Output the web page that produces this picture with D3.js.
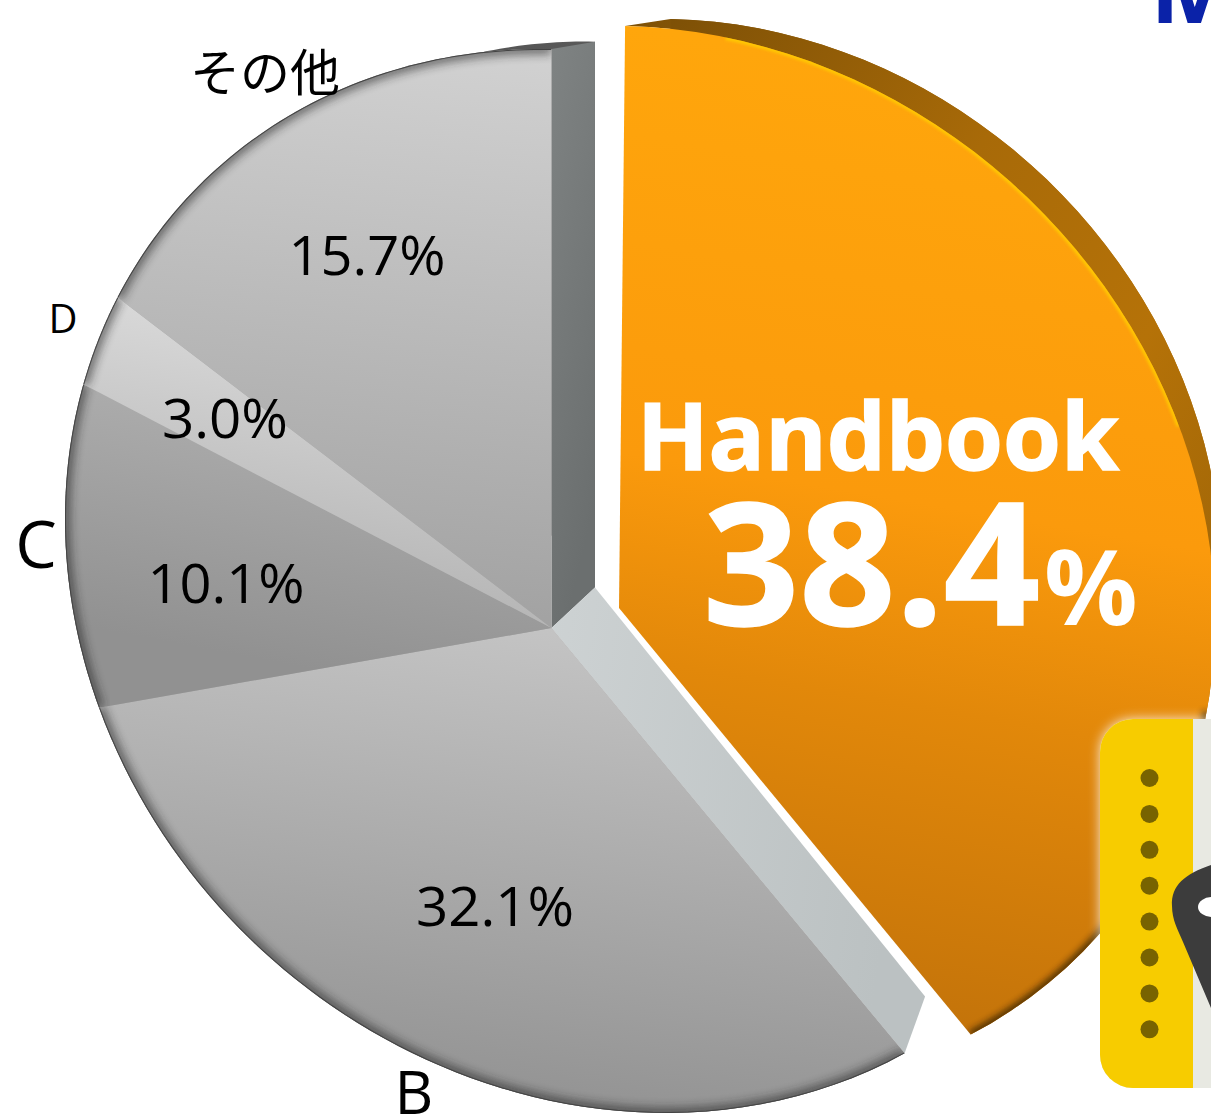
<!DOCTYPE html>
<html><head><meta charset="utf-8">
<script src="https://cdn.jsdelivr.net/npm/d3@7"></script>
<style>html,body{margin:0;padding:0;background:#fff;overflow:hidden}svg{display:block}text{font-family:"Open Sans","Noto Sans CJK JP",sans-serif}</style>
</head><body><svg id="c" width="1211" height="1115"></svg>
<script>
// ---- data ----
const categories = ["Handbook","B","C","D","その他"];
const shares = [38.4,32.1,10.1,3.0,15.7];
const shareLabels = ["38.4","32.1%","10.1%","3.0%","15.7%"];

// ---- layout / styling ----
const W=1211,H=1115;
const apex=[551.5,628], orangeApex=[619,608], orangeShift=[74,-23];
const vp=[1314,-82], depth=0.057, orangeDepth=0.066, farWallDepth=0.05, backRimFrom=320;
const ell={cx:603,cy:581,X:538,Y:532,d:83.3*Math.PI/180};
// projected angle (deg clockwise from top) of each slice boundary on the tilted disc
const projectedBoundaries=[0,140.3,260,297.5,307.3,360];
const faceGrad={B:["#c4c4c4","#929292"],C:["#b6b6b6","#919191"],D:["#e4e4e4","#b5b5b5"],"その他":["#d2d2d2","#a2a2a2"]};
const valuePos={B:[495,926],C:[226,603],D:[225,438],"その他":[367,275]};
const valueLen={B:158,C:157,D:126,"その他":157};
const namePos={B:[414,1114,60],C:[36,568,66],D:[63,333,40],"その他":[265,91,50]};

const svg=d3.select("#c"), defs=svg.append("defs");
const pie=d3.pie().sort(null).value(d=>d).startAngle(0).endAngle(360);
const arcs=pie(shares);
const warp=d3.scaleLinear().domain([0,...arcs.map(a=>a.endAngle)]).range(projectedBoundaries);

const sd=Math.sin(ell.d),cd=Math.cos(ell.d);
function toUnit(x,y){const dx=(x-ell.cx)/ell.X;const dy=(y-ell.cy-ell.Y*cd*dx)/(ell.Y*sd);return [dx,dy];}
function rim(a,psiDeg,sh=[0,0]){
  const p=psiDeg*Math.PI/180,d=[Math.sin(p),-Math.cos(p)];
  const o=toUnit(a[0]-sh[0],a[1]-sh[1]),e=toUnit(a[0]-sh[0]+d[0],a[1]-sh[1]+d[1]);
  const v=[e[0]-o[0],e[1]-o[1]];
  const A=v[0]*v[0]+v[1]*v[1],B=2*(o[0]*v[0]+o[1]*v[1]),C=o[0]*o[0]+o[1]*o[1]-1;
  const s=(-B+Math.sqrt(B*B-4*A*C))/(2*A);
  return [a[0]+d[0]*s,a[1]+d[1]*s];
}
const back=(p,k=depth)=>[p[0]+k*(vp[0]-p[0]),p[1]+k*(vp[1]-p[1])];
const line=d3.line();
const rimPts=(a,p0,p1,sh)=>d3.range(0,61).map(i=>rim(a,p0+(p1-p0)*i/60,sh));
const sector=(a,p0,p1,sh)=>line([a,...rimPts(a,p0,p1,sh)])+"Z";

function grad(id,stops,x1=0,y1=0,x2=0,y2=1){
  const g=defs.append("linearGradient").attr("id",id).attr("x1",x1).attr("y1",y1).attr("x2",x2).attr("y2",y2);
  stops.forEach(([o,c])=>g.append("stop").attr("offset",o).attr("stop-color",c));
}
[["soft",5],["mid",3],["fine",1.6],["glow",6]].forEach(([n,s])=>defs.append("filter").attr("id",n).attr("x","-30%").attr("y","-30%").attr("width","160%").attr("height","160%").append("feGaussianBlur").attr("stdDeviation",s));
grad("wallDark",[[0,"#7f8383"],[1,"#6b6f6f"]],0,0,.3,1);
grad("wallLight",[[0,"#cdd2d3"],[1,"#bbc1c2"]],0,0,1,.2);
grad("topRim",[[0,"#484848"],[1,"#5a5a5a"]],0,0,1,0);
grad("orange",[[0,"#ffa60c"],[.42,"#fb9a0c"],[.62,"#e2880a"],[1,"#bd6f0a"]],.02,0,-.08,1);
grad("orangeRim",[[0,"#7d5006"],[.35,"#a86a08"],[.6,"#b57208"],[1,"#8f5c06"]],0,0,1,1);

// ---- grey part: extruded back (top rim only), walls, faces ----
const gStart=warp(arcs[1].startAngle), gEnd=360;
const gRimBack=rimPts(apex,backRimFrom,gEnd).map(p=>back(p));
const gg=svg.append("g");
gg.append("path").attr("d",line([back(apex),...gRimBack])+"Z").attr("fill","url(#topRim)");
const topFront=rim(apex,gEnd), farFront=rim(apex,gStart);
gg.append("path").attr("d",line([apex,back(apex),back(topFront),topFront])+"Z").attr("fill","url(#wallDark)");
gg.append("path").attr("d",line([apex,back(apex),back(farFront,farWallDepth),farFront])+"Z").attr("fill","url(#wallLight)");
gg.append("path").attr("d",sector(apex,gStart,gEnd)).attr("fill","#aaaaaa");

arcs.slice(1).forEach((a,i)=>{
  const name=categories[i+1],p0=warp(a.startAngle),p1=warp(a.endAngle);
  const id="f"+i,d=sector(apex,p0,p1);
  const ys=[apex,...rimPts(apex,p0,p1)].map(p=>p[1]);
  const g=defs.append("linearGradient").attr("id",id).attr("gradientUnits","userSpaceOnUse")
    .attr("x1",apex[0]+30).attr("y1",d3.min(ys)).attr("x2",apex[0]-30).attr("y2",d3.max(ys));
  faceGrad[name].forEach((c,k)=>g.append("stop").attr("offset",k).attr("stop-color",c));
  defs.append("clipPath").attr("id","clip"+i).append("path").attr("d",d);
  gg.append("path").attr("d",d).attr("fill",`url(#${id})`);
  const b=gg.append("g").attr("clip-path",`url(#clip${i})`);
  b.append("path").attr("d",line(rimPts(apex,p0,p1))).attr("fill","none").attr("stroke","#222").attr("stroke-width",10).attr("filter","url(#soft)").attr("opacity",.6);
  b.append("path").attr("d",line(rimPts(apex,p0,p1))).attr("fill","none").attr("stroke","#444").attr("stroke-width",2);
});

// ---- orange part ----
const oArc=arcs[0],oP0=.6,oP1=warp(oArc.endAngle)+.2;
const oRim=rimPts(orangeApex,oP0,oP1,orangeShift);
const oBack=oRim.map(p=>back(p,orangeDepth));
const og=svg.append("g");
og.append("path").attr("d",line([...oRim,...oBack.slice().reverse()])+"Z").attr("fill","url(#orangeRim)");
og.append("path").attr("d",line([back(orangeApex,orangeDepth),...oBack])+"Z").attr("fill","url(#orangeRim)");
const oD=sector(orangeApex,oP0,oP1,orangeShift);
defs.append("clipPath").attr("id","clipO").append("path").attr("d",oD);
og.append("path").attr("d",oD).attr("fill","url(#orange)");
const ob=og.append("g").attr("clip-path","url(#clipO)");
ob.append("path").attr("d",line(rimPts(orangeApex,oP0+10,72,orangeShift))).attr("fill","none").attr("stroke","#ffd000").attr("stroke-width",5).attr("filter","url(#fine)").attr("opacity",.85);
ob.append("path").attr("d",line(rimPts(orangeApex,100,oP1,orangeShift))).attr("fill","none").attr("stroke","#2c1a00").attr("stroke-width",8).attr("filter","url(#mid)").attr("opacity",.75);

// ---- values and names ----
const tg=svg.append("g");
categories.slice(1).forEach((c,i)=>{
  tg.append("text").attr("x",valuePos[c][0]).attr("y",valuePos[c][1]).attr("text-anchor","middle").attr("font-size",55)
    .attr("textLength",valueLen[c]).attr("lengthAdjust","spacingAndGlyphs").attr("fill","#000").text(shareLabels[i+1]);
  const n=namePos[c];
  tg.append("text").attr("x",n[0]).attr("y",n[1]).attr("text-anchor","middle").attr("font-size",n[2]).attr("fill","#000").text(c);
});
tg.append("text").attr("x",878).attr("y",470).attr("text-anchor","middle").attr("font-size",93).attr("font-weight",700)
  .attr("textLength",482).attr("lengthAdjust","spacingAndGlyphs").attr("fill","#fff").attr("stroke","#fff").attr("stroke-width",1.5).text(categories[0]);
tg.append("text").attr("x",703).attr("y",625).attr("font-size",170).attr("font-weight",700).attr("fill","#fff").attr("stroke","#fff").attr("stroke-width",1.5)
  .attr("textLength",337).attr("lengthAdjust","spacingAndGlyphs").text(shareLabels[0]);
tg.append("text").attr("x",1044).attr("y",625).attr("font-size",104).attr("font-weight",700).attr("fill","#fff").text("%");

// ---- book icon and clipped title ----
const ic=svg.append("g");
const cardPath="M1211,719H1133a33,33 0 0 0 -33,33V1055a33,33 0 0 0 33,33H1211Z";
ic.append("path").attr("d",cardPath).attr("fill","#fff").attr("filter","url(#glow)").attr("opacity",.85);
defs.append("clipPath").attr("id","clipCard").append("path").attr("d",cardPath);
const cc=ic.append("g").attr("clip-path","url(#clipCard)");
cc.append("rect").attr("x",1100).attr("y",719).attr("width",111).attr("height",369).attr("fill","#e8e9e2");
cc.append("rect").attr("x",1100).attr("y",719).attr("width",93).attr("height",369).attr("fill","#f7cc00");
d3.range(8).forEach(i=>ic.append("circle").attr("cx",1149.5).attr("cy",778+i*35.9).attr("r",9).attr("fill","#786300"));
ic.append("path").attr("d","M1211,865C1185,874 1171,885 1172,906C1172,920 1178,930 1183,942L1211,1008Z").attr("fill","#3c3c3c");
ic.append("ellipse").attr("cx",1212).attr("cy",907).attr("rx",14).attr("ry",10).attr("fill","#fff");
svg.append("text").attr("x",1150).attr("y",23).attr("font-size",96).attr("font-weight",700).attr("fill","#0a22a8").text("M");
</script></body></html>
